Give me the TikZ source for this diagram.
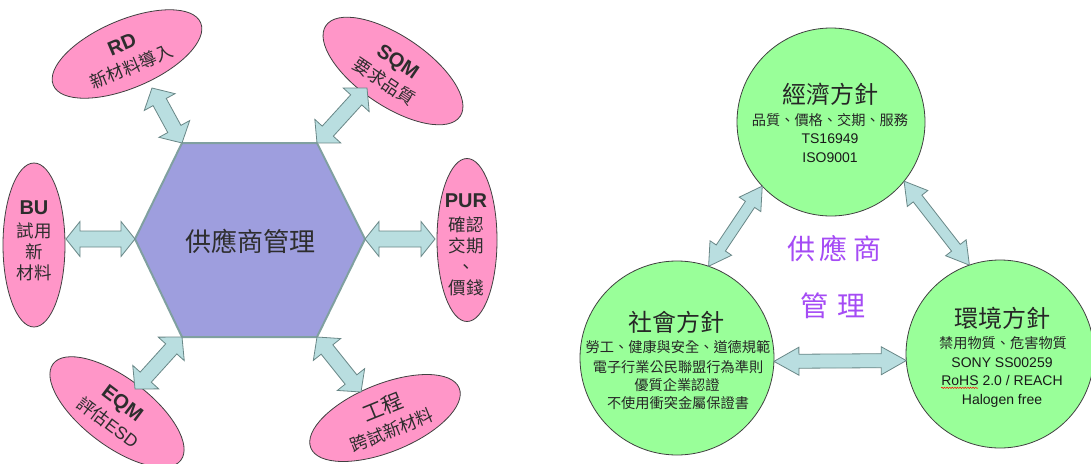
\documentclass[tikz,border=0pt]{standalone}
\usepackage{fontspec}
\setmainfont{Liberation Sans}
\newfontfamily\cjk{Noto Sans CJK TC}
\usetikzlibrary{shapes.geometric,calc,decorations.pathmorphing}
\definecolor{hexfill}{RGB}{158,158,222}
\definecolor{hexline}{RGB}{128,160,160}
\definecolor{pinkfill}{RGB}{255,150,200}
\definecolor{arrfill}{RGB}{185,222,224}
\definecolor{arrline}{RGB}{105,135,135}
\definecolor{greenfill}{RGB}{153,255,153}
\definecolor{supviolet}{RGB}{165,75,245}
\definecolor{txtgray}{RGB}{45,45,45}
\newcommand\latb[1]{{\rmfamily\bfseries\fontsize{20}{21}\selectfont #1}}
\newcommand\latr[1]{{\rmfamily #1}}
% double-headed block arrow: [opts]{A}{B}{head length}{half head width}{half shaft width}
\newcommand\blockarr[6][]{%
  \draw[arrowbox,#1] (#2)
    -- ($(#2)!#4!(#3)!#5!90:(#3)$)
    -- ($(#2)!#4!(#3)!#6!90:(#3)$)
    -- ($(#3)!#4!(#2)!#6!-90:(#2)$)
    -- ($(#3)!#4!(#2)!#5!-90:(#2)$)
    -- (#3)
    -- ($(#3)!#4!(#2)!#5!90:(#2)$)
    -- ($(#3)!#4!(#2)!#6!90:(#2)$)
    -- ($(#2)!#4!(#3)!#6!-90:(#3)$)
    -- ($(#2)!#4!(#3)!#5!-90:(#3)$)
    -- cycle;}
\begin{document}
\begin{tikzpicture}[x=1pt,y=-1pt,
  hexshape/.style={fill=hexfill,draw=hexline,line width=2pt,line join=miter},
  hextext/.style={font=\cjk\fontsize{26}{28}\selectfont,text=txtgray,inner sep=0pt},
  pinkell/.style={ellipse,fill=pinkfill,draw=black!75,line width=0.8pt,inner sep=0pt,outer sep=0pt},
  ellabel/.style={font=\cjk\fontsize{17.5}{21}\selectfont,text=txtgray,align=center,inner sep=0pt},
  arrowbox/.style={fill=arrfill,draw=arrline,line width=0.8pt,line join=miter},
  greencirc/.style={circle,fill=greenfill,draw=black!75,line width=0.8pt,inner sep=0pt,outer sep=0pt},
  ctitle/.style={font=\cjk\fontsize{24}{26}\selectfont,text=black!85,inner sep=0pt},
  csmall/.style={font=\cjk\fontsize{14.2}{16}\selectfont,text=black!85,inner sep=0pt,text height=10pt,text depth=0pt},
  clat/.style={font=\rmfamily\fontsize{14}{16}\selectfont,text=black!90,inner sep=0pt,text height=10pt,text depth=0pt},
  purp/.style={font=\cjk\fontsize{28}{30}\selectfont,text=supviolet,inner sep=0pt}]
\useasboundingbox (0,0) rectangle (1091,463);
\fill[white] (0,0) rectangle (1091,463);

% ---------------- left: hexagon with six partners ----------------
\coordinate (h1) at (182,143);
\coordinate (h2) at (317,143);
\coordinate (h3) at (365,239);
\coordinate (h4) at (317,337);
\coordinate (h5) at (182,337);
\coordinate (h6) at (135,239);
\draw[hexshape] (h1) -- (h2) -- (h3) -- (h4) -- (h5) -- (h6) -- cycle;
\node[hextext] (hexlabel) at (250,241) {供應商管理};

\node[pinkell,minimum width=160pt,minimum height=68pt,rotate=23] (rd) at (127,54) {};
\node[ellabel,rotate=23] (rdlabel) at (127,56) {\latb{RD}\\[3pt]新材料導入};

\node[pinkell,minimum width=162pt,minimum height=70pt,rotate=-34] (sqm) at (393,71) {};
\node[ellabel,rotate=-34] (sqmlabel) at (391,72) {\latb{SQM}\\[3pt]要求品質};

\node[pinkell,minimum width=62pt,minimum height=164pt] (bu) at (34,245) {};
\node[ellabel] (bulabel) at (34,241) {\latb{BU}\\[2pt]試用\\新\\材料};

\node[pinkell,minimum width=60pt,minimum height=163pt] (pur) at (467,240) {};
\node[ellabel] (purlabel) at (466,245) {\latb{PUR}\\[3pt]確認\\交期\\、\\價錢};

\node[pinkell,minimum width=160pt,minimum height=68pt,rotate=-37] (eqm) at (117,412) {};
\node[ellabel,rotate=-37] (eqmlabel) at (115,413) {\latb{EQM}\\[3pt]評估\latr{ESD}};

\node[pinkell,minimum width=160pt,minimum height=68pt,rotate=22] (eng) at (385,418) {};
\node[ellabel,rotate=22] (englabel) at (387,418) {{\fontsize{21}{22}\selectfont 工程}\\[3pt]跨試新材料};

\coordinate (rdtip) at (152,88);
\coordinate (sqmtip) at (367,88);
\coordinate (butip) at (66,239);
\coordinate (purtip) at (435,239);
\coordinate (eqmtip) at (135,389);
\coordinate (engtip) at (361,392);
\blockarr{rdtip}{h1}{16pt}{17.5pt}{7.5pt}
\blockarr{sqmtip}{h2}{16pt}{17.5pt}{7.5pt}
\blockarr{butip}{h6}{14pt}{17.5pt}{8pt}
\blockarr{h3}{purtip}{14pt}{17.5pt}{8pt}
\blockarr{h5}{eqmtip}{16pt}{17.5pt}{7.5pt}
\blockarr{h4}{engtip}{16pt}{17.5pt}{7.5pt}

% ---------------- right: three circles ----------------
\node[greencirc,minimum size=188pt] (econ) at (831,122) {};
\node[greencirc,minimum size=194pt] (soc) at (677,358) {};
\node[greencirc,minimum size=188pt] (env) at (1000,354) {};

\node[ctitle] (econt) at (830,94) {經濟方針};
\node[csmall] (econ1) at (830,120) {品質、價格、交期、服務};
\node[clat] (econ2) at (830,138) {TS16949};
\node[clat] (econ3) at (830,157) {ISO9001};

\node[ctitle] (soct) at (676,322) {社會方針};
\node[csmall] (soc1) at (678,347) {勞工、健康與安全、道德規範};
\node[csmall] (soc2) at (678,367) {電子行業公民聯盟行為準則};
\node[csmall] (soc3) at (677,385) {優質企業認證};
\node[csmall] (soc4) at (678,403) {不使用衝突金屬保證書};

\node[ctitle] (envt) at (1002,318) {環境方針};
\node[csmall] (env1) at (1003,343) {禁用物質、危害物質};
\node[clat] (env2) at (1002,362) {SONY SS00259};
\node[clat] (env3) at (1002,380) {RoHS 2.0 / REACH};
\node[clat] (env4) at (1002,399) {Halogen free};
\draw[red,line width=0.45pt,decorate,decoration={snake,amplitude=0.7pt,segment length=2.6pt}]
  ($(env3.base west)+(0,2.8)$) -- ($(env3.base west)+(37,2.8)$);

\node[purp] (sup1) at (834,249) {供\hspace{5pt}應\hspace{5pt}商};
\node[purp] (sup2) at (833,306) {管\hspace{9pt}理};

\blockarr{econ.223}{soc.71}{22pt}{13pt}{5.5pt}
\blockarr{econ.321}{env.109}{22pt}{13pt}{5.5pt}
\blockarr{soc.-2}{env.184}{25pt}{14pt}{7pt}
\end{tikzpicture}
\end{document}
